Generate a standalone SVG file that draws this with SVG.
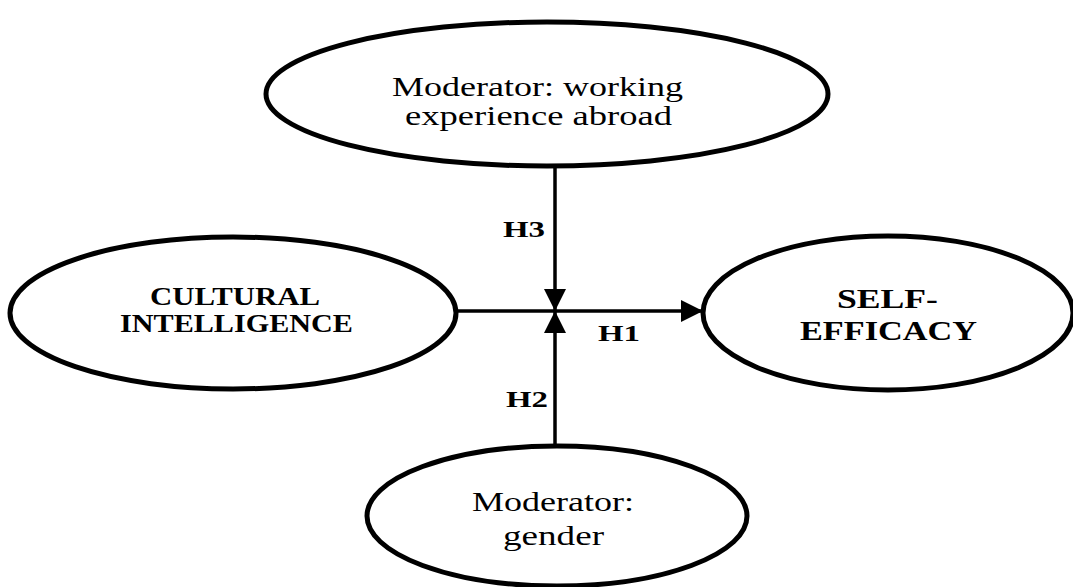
<svg xmlns="http://www.w3.org/2000/svg" width="1073" height="587" viewBox="0 0 1073 587">
<defs>
<style>
.node ellipse{fill:#fff;stroke:#000;stroke-width:5}
.reg{font-family:"Liberation Serif","Times New Roman",serif;font-size:28px;fill:#000}
.bold{font-family:"Liberation Serif","Times New Roman",serif;font-weight:bold;fill:#000}
.edge{stroke:#000;stroke-width:3.5;fill:none}
.lbl{font-family:"Liberation Serif","Times New Roman",serif;font-weight:bold;font-size:24px;fill:#000}
</style>
<marker id="ah" viewBox="0 0 10 10" refX="10" refY="5" markerUnits="userSpaceOnUse" markerWidth="30" markerHeight="22" orient="auto">
<path d="M0,0 L10,5 L0,10 z" fill="#000"/>
</marker>
<marker id="ahv" viewBox="0 0 10 10" refX="10" refY="5" markerUnits="userSpaceOnUse" markerWidth="22" markerHeight="30" orient="auto">
<path d="M0,0 L10,5 L0,10 z" fill="#000"/>
</marker>
</defs>
<rect width="1073" height="587" fill="#fff"/>
<g id="connectors">
<line class="edge" x1="456" y1="311" x2="703" y2="311" marker-end="url(#ah)"/>
<line class="edge" x1="555" y1="167" x2="555" y2="311" stroke-width="4" marker-end="url(#ahv)"/>
<line class="edge" x1="555" y1="446" x2="555" y2="311" stroke-width="4" marker-end="url(#ahv)"/>
<text class="lbl" x="503" y="237" textLength="42" lengthAdjust="spacingAndGlyphs">H3</text>
<text class="lbl" x="598" y="341" textLength="42" lengthAdjust="spacingAndGlyphs">H1</text>
<text class="lbl" x="506" y="407" textLength="42" lengthAdjust="spacingAndGlyphs">H2</text>
</g>
<g id="node-experience" class="node">
<ellipse cx="547" cy="94" rx="281" ry="72"/>
<text class="reg" x="392" y="96" textLength="291" lengthAdjust="spacingAndGlyphs">Moderator: working</text>
<text class="reg" x="405" y="125" textLength="267" lengthAdjust="spacingAndGlyphs">experience abroad</text>
</g>
<g id="node-cq" class="node">
<ellipse cx="233" cy="313" rx="223" ry="76"/>
<text class="bold" font-size="25" x="150" y="305" textLength="170" lengthAdjust="spacingAndGlyphs">CULTURAL</text>
<text class="bold" font-size="25" x="120" y="332" textLength="233" lengthAdjust="spacingAndGlyphs">INTELLIGENCE</text>
</g>
<g id="node-se" class="node">
<ellipse cx="888" cy="313" rx="185" ry="77"/>
<text class="bold" font-size="28" x="837" y="308" textLength="101" lengthAdjust="spacingAndGlyphs">SELF-</text>
<text class="bold" font-size="28" x="800" y="340" textLength="177" lengthAdjust="spacingAndGlyphs">EFFICACY</text>
</g>
<g id="node-gender" class="node">
<ellipse cx="557" cy="516" rx="190" ry="70"/>
<text class="reg" x="472" y="511" textLength="162" lengthAdjust="spacingAndGlyphs">Moderator:</text>
<text class="reg" x="503" y="545" textLength="101" lengthAdjust="spacingAndGlyphs">gender</text>
</g>
</svg>
